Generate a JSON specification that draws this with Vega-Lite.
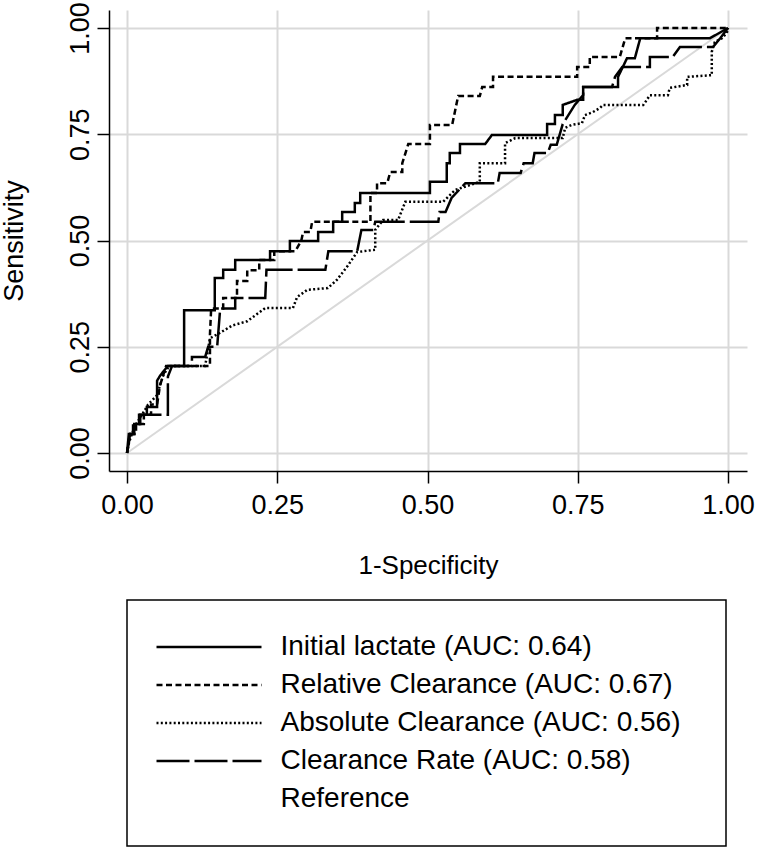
{
  "$schema": "https://vega.github.io/schema/vega-lite/v6.json",
  "width": 638,
  "height": 461,
  "autosize": {"type": "none"},
  "padding": {"left": 109, "top": 10, "right": 10, "bottom": 379},
  "background": "white",
  "config": {"view": {"stroke": null}, "font": "Liberation Sans"},
  "datasets": {
    "diag": [{"x": 0, "y": 0}, {"x": 1, "y": 1}],
    "roc": [
      {"curve": "Initial lactate (AUC: 0.64)", "k": 1, "x": 0, "y": 0},
      {"curve": "Initial lactate (AUC: 0.64)", "k": 2, "x": 0.003, "y": 0.023},
      {"curve": "Initial lactate (AUC: 0.64)", "k": 3, "x": 0.005, "y": 0.045},
      {"curve": "Initial lactate (AUC: 0.64)", "k": 4, "x": 0.012, "y": 0.045},
      {"curve": "Initial lactate (AUC: 0.64)", "k": 5, "x": 0.012, "y": 0.068},
      {"curve": "Initial lactate (AUC: 0.64)", "k": 6, "x": 0.022, "y": 0.068},
      {"curve": "Initial lactate (AUC: 0.64)", "k": 7, "x": 0.022, "y": 0.09},
      {"curve": "Initial lactate (AUC: 0.64)", "k": 8, "x": 0.033, "y": 0.09},
      {"curve": "Initial lactate (AUC: 0.64)", "k": 9, "x": 0.033, "y": 0.108},
      {"curve": "Initial lactate (AUC: 0.64)", "k": 10, "x": 0.05, "y": 0.108},
      {"curve": "Initial lactate (AUC: 0.64)", "k": 11, "x": 0.05, "y": 0.17},
      {"curve": "Initial lactate (AUC: 0.64)", "k": 12, "x": 0.055, "y": 0.182},
      {"curve": "Initial lactate (AUC: 0.64)", "k": 13, "x": 0.068, "y": 0.205},
      {"curve": "Initial lactate (AUC: 0.64)", "k": 14, "x": 0.095, "y": 0.205},
      {"curve": "Initial lactate (AUC: 0.64)", "k": 15, "x": 0.095, "y": 0.336},
      {"curve": "Initial lactate (AUC: 0.64)", "k": 16, "x": 0.146, "y": 0.336},
      {"curve": "Initial lactate (AUC: 0.64)", "k": 17, "x": 0.146, "y": 0.412},
      {"curve": "Initial lactate (AUC: 0.64)", "k": 18, "x": 0.16, "y": 0.412},
      {"curve": "Initial lactate (AUC: 0.64)", "k": 19, "x": 0.16, "y": 0.431},
      {"curve": "Initial lactate (AUC: 0.64)", "k": 20, "x": 0.18, "y": 0.431},
      {"curve": "Initial lactate (AUC: 0.64)", "k": 21, "x": 0.18, "y": 0.454},
      {"curve": "Initial lactate (AUC: 0.64)", "k": 22, "x": 0.238, "y": 0.454},
      {"curve": "Initial lactate (AUC: 0.64)", "k": 23, "x": 0.238, "y": 0.475},
      {"curve": "Initial lactate (AUC: 0.64)", "k": 24, "x": 0.271, "y": 0.475},
      {"curve": "Initial lactate (AUC: 0.64)", "k": 25, "x": 0.271, "y": 0.499},
      {"curve": "Initial lactate (AUC: 0.64)", "k": 26, "x": 0.318, "y": 0.499},
      {"curve": "Initial lactate (AUC: 0.64)", "k": 27, "x": 0.318, "y": 0.52},
      {"curve": "Initial lactate (AUC: 0.64)", "k": 28, "x": 0.343, "y": 0.52},
      {"curve": "Initial lactate (AUC: 0.64)", "k": 29, "x": 0.343, "y": 0.544},
      {"curve": "Initial lactate (AUC: 0.64)", "k": 30, "x": 0.358, "y": 0.544},
      {"curve": "Initial lactate (AUC: 0.64)", "k": 31, "x": 0.358, "y": 0.567},
      {"curve": "Initial lactate (AUC: 0.64)", "k": 32, "x": 0.379, "y": 0.567},
      {"curve": "Initial lactate (AUC: 0.64)", "k": 33, "x": 0.379, "y": 0.588},
      {"curve": "Initial lactate (AUC: 0.64)", "k": 34, "x": 0.388, "y": 0.588},
      {"curve": "Initial lactate (AUC: 0.64)", "k": 35, "x": 0.388, "y": 0.612},
      {"curve": "Initial lactate (AUC: 0.64)", "k": 36, "x": 0.504, "y": 0.612},
      {"curve": "Initial lactate (AUC: 0.64)", "k": 37, "x": 0.504, "y": 0.638},
      {"curve": "Initial lactate (AUC: 0.64)", "k": 38, "x": 0.532, "y": 0.638},
      {"curve": "Initial lactate (AUC: 0.64)", "k": 39, "x": 0.532, "y": 0.682},
      {"curve": "Initial lactate (AUC: 0.64)", "k": 40, "x": 0.537, "y": 0.682},
      {"curve": "Initial lactate (AUC: 0.64)", "k": 41, "x": 0.537, "y": 0.706},
      {"curve": "Initial lactate (AUC: 0.64)", "k": 42, "x": 0.554, "y": 0.706},
      {"curve": "Initial lactate (AUC: 0.64)", "k": 43, "x": 0.554, "y": 0.727},
      {"curve": "Initial lactate (AUC: 0.64)", "k": 44, "x": 0.596, "y": 0.727},
      {"curve": "Initial lactate (AUC: 0.64)", "k": 45, "x": 0.607, "y": 0.748},
      {"curve": "Initial lactate (AUC: 0.64)", "k": 46, "x": 0.699, "y": 0.748},
      {"curve": "Initial lactate (AUC: 0.64)", "k": 47, "x": 0.699, "y": 0.774},
      {"curve": "Initial lactate (AUC: 0.64)", "k": 48, "x": 0.712, "y": 0.774},
      {"curve": "Initial lactate (AUC: 0.64)", "k": 49, "x": 0.712, "y": 0.795},
      {"curve": "Initial lactate (AUC: 0.64)", "k": 50, "x": 0.725, "y": 0.795},
      {"curve": "Initial lactate (AUC: 0.64)", "k": 51, "x": 0.725, "y": 0.819},
      {"curve": "Initial lactate (AUC: 0.64)", "k": 52, "x": 0.749, "y": 0.831},
      {"curve": "Initial lactate (AUC: 0.64)", "k": 53, "x": 0.759, "y": 0.831},
      {"curve": "Initial lactate (AUC: 0.64)", "k": 54, "x": 0.759, "y": 0.861},
      {"curve": "Initial lactate (AUC: 0.64)", "k": 55, "x": 0.817, "y": 0.861},
      {"curve": "Initial lactate (AUC: 0.64)", "k": 56, "x": 0.817, "y": 0.885},
      {"curve": "Initial lactate (AUC: 0.64)", "k": 57, "x": 0.832, "y": 0.929},
      {"curve": "Initial lactate (AUC: 0.64)", "k": 58, "x": 0.845, "y": 0.929},
      {"curve": "Initial lactate (AUC: 0.64)", "k": 59, "x": 0.854, "y": 0.976},
      {"curve": "Initial lactate (AUC: 0.64)", "k": 60, "x": 0.97, "y": 0.976},
      {"curve": "Initial lactate (AUC: 0.64)", "k": 61, "x": 1, "y": 1},

      {"curve": "Relative Clearance (AUC: 0.67)", "k": 1, "x": 0, "y": 0},
      {"curve": "Relative Clearance (AUC: 0.67)", "k": 2, "x": 0.002, "y": 0.023},
      {"curve": "Relative Clearance (AUC: 0.67)", "k": 3, "x": 0.005, "y": 0.045},
      {"curve": "Relative Clearance (AUC: 0.67)", "k": 4, "x": 0.015, "y": 0.045},
      {"curve": "Relative Clearance (AUC: 0.67)", "k": 5, "x": 0.015, "y": 0.068},
      {"curve": "Relative Clearance (AUC: 0.67)", "k": 6, "x": 0.028, "y": 0.068},
      {"curve": "Relative Clearance (AUC: 0.67)", "k": 7, "x": 0.028, "y": 0.09},
      {"curve": "Relative Clearance (AUC: 0.67)", "k": 8, "x": 0.04, "y": 0.09},
      {"curve": "Relative Clearance (AUC: 0.67)", "k": 9, "x": 0.04, "y": 0.114},
      {"curve": "Relative Clearance (AUC: 0.67)", "k": 10, "x": 0.05, "y": 0.114},
      {"curve": "Relative Clearance (AUC: 0.67)", "k": 11, "x": 0.055, "y": 0.16},
      {"curve": "Relative Clearance (AUC: 0.67)", "k": 12, "x": 0.06, "y": 0.182},
      {"curve": "Relative Clearance (AUC: 0.67)", "k": 13, "x": 0.065, "y": 0.205},
      {"curve": "Relative Clearance (AUC: 0.67)", "k": 14, "x": 0.138, "y": 0.205},
      {"curve": "Relative Clearance (AUC: 0.67)", "k": 15, "x": 0.138, "y": 0.28},
      {"curve": "Relative Clearance (AUC: 0.67)", "k": 16, "x": 0.14, "y": 0.34},
      {"curve": "Relative Clearance (AUC: 0.67)", "k": 17, "x": 0.16, "y": 0.34},
      {"curve": "Relative Clearance (AUC: 0.67)", "k": 18, "x": 0.16, "y": 0.365},
      {"curve": "Relative Clearance (AUC: 0.67)", "k": 19, "x": 0.183, "y": 0.365},
      {"curve": "Relative Clearance (AUC: 0.67)", "k": 20, "x": 0.183, "y": 0.405},
      {"curve": "Relative Clearance (AUC: 0.67)", "k": 21, "x": 0.2, "y": 0.405},
      {"curve": "Relative Clearance (AUC: 0.67)", "k": 22, "x": 0.2, "y": 0.43},
      {"curve": "Relative Clearance (AUC: 0.67)", "k": 23, "x": 0.22, "y": 0.43},
      {"curve": "Relative Clearance (AUC: 0.67)", "k": 24, "x": 0.22, "y": 0.454},
      {"curve": "Relative Clearance (AUC: 0.67)", "k": 25, "x": 0.245, "y": 0.454},
      {"curve": "Relative Clearance (AUC: 0.67)", "k": 26, "x": 0.245, "y": 0.475},
      {"curve": "Relative Clearance (AUC: 0.67)", "k": 27, "x": 0.28, "y": 0.475},
      {"curve": "Relative Clearance (AUC: 0.67)", "k": 28, "x": 0.29, "y": 0.5},
      {"curve": "Relative Clearance (AUC: 0.67)", "k": 29, "x": 0.293, "y": 0.52},
      {"curve": "Relative Clearance (AUC: 0.67)", "k": 30, "x": 0.305, "y": 0.52},
      {"curve": "Relative Clearance (AUC: 0.67)", "k": 31, "x": 0.308, "y": 0.544},
      {"curve": "Relative Clearance (AUC: 0.67)", "k": 32, "x": 0.405, "y": 0.544},
      {"curve": "Relative Clearance (AUC: 0.67)", "k": 33, "x": 0.405, "y": 0.612},
      {"curve": "Relative Clearance (AUC: 0.67)", "k": 34, "x": 0.416, "y": 0.612},
      {"curve": "Relative Clearance (AUC: 0.67)", "k": 35, "x": 0.416, "y": 0.635},
      {"curve": "Relative Clearance (AUC: 0.67)", "k": 36, "x": 0.433, "y": 0.635},
      {"curve": "Relative Clearance (AUC: 0.67)", "k": 37, "x": 0.438, "y": 0.661},
      {"curve": "Relative Clearance (AUC: 0.67)", "k": 38, "x": 0.458, "y": 0.661},
      {"curve": "Relative Clearance (AUC: 0.67)", "k": 39, "x": 0.458, "y": 0.682},
      {"curve": "Relative Clearance (AUC: 0.67)", "k": 40, "x": 0.468, "y": 0.727},
      {"curve": "Relative Clearance (AUC: 0.67)", "k": 41, "x": 0.504, "y": 0.727},
      {"curve": "Relative Clearance (AUC: 0.67)", "k": 42, "x": 0.504, "y": 0.772},
      {"curve": "Relative Clearance (AUC: 0.67)", "k": 43, "x": 0.541, "y": 0.772},
      {"curve": "Relative Clearance (AUC: 0.67)", "k": 44, "x": 0.551, "y": 0.84},
      {"curve": "Relative Clearance (AUC: 0.67)", "k": 45, "x": 0.587, "y": 0.84},
      {"curve": "Relative Clearance (AUC: 0.67)", "k": 46, "x": 0.591, "y": 0.861},
      {"curve": "Relative Clearance (AUC: 0.67)", "k": 47, "x": 0.609, "y": 0.861},
      {"curve": "Relative Clearance (AUC: 0.67)", "k": 48, "x": 0.609, "y": 0.885},
      {"curve": "Relative Clearance (AUC: 0.67)", "k": 49, "x": 0.749, "y": 0.885},
      {"curve": "Relative Clearance (AUC: 0.67)", "k": 50, "x": 0.749, "y": 0.908},
      {"curve": "Relative Clearance (AUC: 0.67)", "k": 51, "x": 0.77, "y": 0.908},
      {"curve": "Relative Clearance (AUC: 0.67)", "k": 52, "x": 0.77, "y": 0.932},
      {"curve": "Relative Clearance (AUC: 0.67)", "k": 53, "x": 0.82, "y": 0.932},
      {"curve": "Relative Clearance (AUC: 0.67)", "k": 54, "x": 0.829, "y": 0.976},
      {"curve": "Relative Clearance (AUC: 0.67)", "k": 55, "x": 0.882, "y": 0.976},
      {"curve": "Relative Clearance (AUC: 0.67)", "k": 56, "x": 0.882, "y": 1},
      {"curve": "Relative Clearance (AUC: 0.67)", "k": 57, "x": 1, "y": 1},

      {"curve": "Absolute Clearance (AUC: 0.56)", "k": 1, "x": 0, "y": 0},
      {"curve": "Absolute Clearance (AUC: 0.56)", "k": 2, "x": 0.003, "y": 0.023},
      {"curve": "Absolute Clearance (AUC: 0.56)", "k": 3, "x": 0.008, "y": 0.045},
      {"curve": "Absolute Clearance (AUC: 0.56)", "k": 4, "x": 0.015, "y": 0.068},
      {"curve": "Absolute Clearance (AUC: 0.56)", "k": 5, "x": 0.025, "y": 0.09},
      {"curve": "Absolute Clearance (AUC: 0.56)", "k": 6, "x": 0.035, "y": 0.114},
      {"curve": "Absolute Clearance (AUC: 0.56)", "k": 7, "x": 0.05, "y": 0.136},
      {"curve": "Absolute Clearance (AUC: 0.56)", "k": 8, "x": 0.055, "y": 0.16},
      {"curve": "Absolute Clearance (AUC: 0.56)", "k": 9, "x": 0.06, "y": 0.182},
      {"curve": "Absolute Clearance (AUC: 0.56)", "k": 10, "x": 0.07, "y": 0.205},
      {"curve": "Absolute Clearance (AUC: 0.56)", "k": 11, "x": 0.13, "y": 0.205},
      {"curve": "Absolute Clearance (AUC: 0.56)", "k": 12, "x": 0.138, "y": 0.27},
      {"curve": "Absolute Clearance (AUC: 0.56)", "k": 13, "x": 0.155, "y": 0.283},
      {"curve": "Absolute Clearance (AUC: 0.56)", "k": 14, "x": 0.175, "y": 0.3},
      {"curve": "Absolute Clearance (AUC: 0.56)", "k": 15, "x": 0.2, "y": 0.31},
      {"curve": "Absolute Clearance (AUC: 0.56)", "k": 16, "x": 0.23, "y": 0.341},
      {"curve": "Absolute Clearance (AUC: 0.56)", "k": 17, "x": 0.276, "y": 0.341},
      {"curve": "Absolute Clearance (AUC: 0.56)", "k": 18, "x": 0.283, "y": 0.367},
      {"curve": "Absolute Clearance (AUC: 0.56)", "k": 19, "x": 0.3, "y": 0.384},
      {"curve": "Absolute Clearance (AUC: 0.56)", "k": 20, "x": 0.334, "y": 0.388},
      {"curve": "Absolute Clearance (AUC: 0.56)", "k": 21, "x": 0.349, "y": 0.407},
      {"curve": "Absolute Clearance (AUC: 0.56)", "k": 22, "x": 0.366, "y": 0.438},
      {"curve": "Absolute Clearance (AUC: 0.56)", "k": 23, "x": 0.383, "y": 0.473},
      {"curve": "Absolute Clearance (AUC: 0.56)", "k": 24, "x": 0.413, "y": 0.478},
      {"curve": "Absolute Clearance (AUC: 0.56)", "k": 25, "x": 0.413, "y": 0.525},
      {"curve": "Absolute Clearance (AUC: 0.56)", "k": 26, "x": 0.426, "y": 0.548},
      {"curve": "Absolute Clearance (AUC: 0.56)", "k": 27, "x": 0.451, "y": 0.548},
      {"curve": "Absolute Clearance (AUC: 0.56)", "k": 28, "x": 0.463, "y": 0.591},
      {"curve": "Absolute Clearance (AUC: 0.56)", "k": 29, "x": 0.526, "y": 0.591},
      {"curve": "Absolute Clearance (AUC: 0.56)", "k": 30, "x": 0.546, "y": 0.619},
      {"curve": "Absolute Clearance (AUC: 0.56)", "k": 31, "x": 0.587, "y": 0.638},
      {"curve": "Absolute Clearance (AUC: 0.56)", "k": 32, "x": 0.587, "y": 0.682},
      {"curve": "Absolute Clearance (AUC: 0.56)", "k": 33, "x": 0.629, "y": 0.682},
      {"curve": "Absolute Clearance (AUC: 0.56)", "k": 34, "x": 0.629, "y": 0.729},
      {"curve": "Absolute Clearance (AUC: 0.56)", "k": 35, "x": 0.646, "y": 0.741},
      {"curve": "Absolute Clearance (AUC: 0.56)", "k": 36, "x": 0.725, "y": 0.741},
      {"curve": "Absolute Clearance (AUC: 0.56)", "k": 37, "x": 0.729, "y": 0.765},
      {"curve": "Absolute Clearance (AUC: 0.56)", "k": 38, "x": 0.74, "y": 0.772},
      {"curve": "Absolute Clearance (AUC: 0.56)", "k": 39, "x": 0.757, "y": 0.776},
      {"curve": "Absolute Clearance (AUC: 0.56)", "k": 40, "x": 0.762, "y": 0.795},
      {"curve": "Absolute Clearance (AUC: 0.56)", "k": 41, "x": 0.775, "y": 0.802},
      {"curve": "Absolute Clearance (AUC: 0.56)", "k": 42, "x": 0.787, "y": 0.812},
      {"curve": "Absolute Clearance (AUC: 0.56)", "k": 43, "x": 0.792, "y": 0.819},
      {"curve": "Absolute Clearance (AUC: 0.56)", "k": 44, "x": 0.859, "y": 0.819},
      {"curve": "Absolute Clearance (AUC: 0.56)", "k": 45, "x": 0.865, "y": 0.831},
      {"curve": "Absolute Clearance (AUC: 0.56)", "k": 46, "x": 0.87, "y": 0.842},
      {"curve": "Absolute Clearance (AUC: 0.56)", "k": 47, "x": 0.9, "y": 0.842},
      {"curve": "Absolute Clearance (AUC: 0.56)", "k": 48, "x": 0.903, "y": 0.859},
      {"curve": "Absolute Clearance (AUC: 0.56)", "k": 49, "x": 0.932, "y": 0.866},
      {"curve": "Absolute Clearance (AUC: 0.56)", "k": 50, "x": 0.932, "y": 0.885},
      {"curve": "Absolute Clearance (AUC: 0.56)", "k": 51, "x": 0.973, "y": 0.889},
      {"curve": "Absolute Clearance (AUC: 0.56)", "k": 52, "x": 0.973, "y": 0.944},
      {"curve": "Absolute Clearance (AUC: 0.56)", "k": 53, "x": 0.978, "y": 0.967},
      {"curve": "Absolute Clearance (AUC: 0.56)", "k": 54, "x": 0.99, "y": 0.976},
      {"curve": "Absolute Clearance (AUC: 0.56)", "k": 55, "x": 0.998, "y": 0.988},
      {"curve": "Absolute Clearance (AUC: 0.56)", "k": 56, "x": 1, "y": 1},

      {"curve": "Clearance Rate (AUC: 0.58)", "k": 1, "x": 0, "y": 0},
      {"curve": "Clearance Rate (AUC: 0.58)", "k": 2, "x": 0.003, "y": 0.045},
      {"curve": "Clearance Rate (AUC: 0.58)", "k": 3, "x": 0.01, "y": 0.045},
      {"curve": "Clearance Rate (AUC: 0.58)", "k": 4, "x": 0.01, "y": 0.068},
      {"curve": "Clearance Rate (AUC: 0.58)", "k": 5, "x": 0.02, "y": 0.068},
      {"curve": "Clearance Rate (AUC: 0.58)", "k": 6, "x": 0.02, "y": 0.09},
      {"curve": "Clearance Rate (AUC: 0.58)", "k": 7, "x": 0.068, "y": 0.09},
      {"curve": "Clearance Rate (AUC: 0.58)", "k": 8, "x": 0.068, "y": 0.18},
      {"curve": "Clearance Rate (AUC: 0.58)", "k": 9, "x": 0.075, "y": 0.205},
      {"curve": "Clearance Rate (AUC: 0.58)", "k": 10, "x": 0.108, "y": 0.205},
      {"curve": "Clearance Rate (AUC: 0.58)", "k": 11, "x": 0.108, "y": 0.226},
      {"curve": "Clearance Rate (AUC: 0.58)", "k": 12, "x": 0.13, "y": 0.226},
      {"curve": "Clearance Rate (AUC: 0.58)", "k": 13, "x": 0.135, "y": 0.25},
      {"curve": "Clearance Rate (AUC: 0.58)", "k": 14, "x": 0.15, "y": 0.25},
      {"curve": "Clearance Rate (AUC: 0.58)", "k": 15, "x": 0.155, "y": 0.34},
      {"curve": "Clearance Rate (AUC: 0.58)", "k": 16, "x": 0.18, "y": 0.34},
      {"curve": "Clearance Rate (AUC: 0.58)", "k": 17, "x": 0.18, "y": 0.365},
      {"curve": "Clearance Rate (AUC: 0.58)", "k": 18, "x": 0.23, "y": 0.365},
      {"curve": "Clearance Rate (AUC: 0.58)", "k": 19, "x": 0.232, "y": 0.431},
      {"curve": "Clearance Rate (AUC: 0.58)", "k": 20, "x": 0.33, "y": 0.431},
      {"curve": "Clearance Rate (AUC: 0.58)", "k": 21, "x": 0.335, "y": 0.475},
      {"curve": "Clearance Rate (AUC: 0.58)", "k": 22, "x": 0.383, "y": 0.475},
      {"curve": "Clearance Rate (AUC: 0.58)", "k": 23, "x": 0.39, "y": 0.525},
      {"curve": "Clearance Rate (AUC: 0.58)", "k": 24, "x": 0.41, "y": 0.525},
      {"curve": "Clearance Rate (AUC: 0.58)", "k": 25, "x": 0.413, "y": 0.544},
      {"curve": "Clearance Rate (AUC: 0.58)", "k": 26, "x": 0.518, "y": 0.544},
      {"curve": "Clearance Rate (AUC: 0.58)", "k": 27, "x": 0.52, "y": 0.567},
      {"curve": "Clearance Rate (AUC: 0.58)", "k": 28, "x": 0.53, "y": 0.567},
      {"curve": "Clearance Rate (AUC: 0.58)", "k": 29, "x": 0.54, "y": 0.6},
      {"curve": "Clearance Rate (AUC: 0.58)", "k": 30, "x": 0.563, "y": 0.635},
      {"curve": "Clearance Rate (AUC: 0.58)", "k": 31, "x": 0.617, "y": 0.635},
      {"curve": "Clearance Rate (AUC: 0.58)", "k": 32, "x": 0.62, "y": 0.659},
      {"curve": "Clearance Rate (AUC: 0.58)", "k": 33, "x": 0.655, "y": 0.659},
      {"curve": "Clearance Rate (AUC: 0.58)", "k": 34, "x": 0.66, "y": 0.682},
      {"curve": "Clearance Rate (AUC: 0.58)", "k": 35, "x": 0.675, "y": 0.682},
      {"curve": "Clearance Rate (AUC: 0.58)", "k": 36, "x": 0.678, "y": 0.706},
      {"curve": "Clearance Rate (AUC: 0.58)", "k": 37, "x": 0.7, "y": 0.706},
      {"curve": "Clearance Rate (AUC: 0.58)", "k": 38, "x": 0.705, "y": 0.725},
      {"curve": "Clearance Rate (AUC: 0.58)", "k": 39, "x": 0.715, "y": 0.725},
      {"curve": "Clearance Rate (AUC: 0.58)", "k": 40, "x": 0.725, "y": 0.774},
      {"curve": "Clearance Rate (AUC: 0.58)", "k": 41, "x": 0.745, "y": 0.819},
      {"curve": "Clearance Rate (AUC: 0.58)", "k": 42, "x": 0.759, "y": 0.842},
      {"curve": "Clearance Rate (AUC: 0.58)", "k": 43, "x": 0.759, "y": 0.861},
      {"curve": "Clearance Rate (AUC: 0.58)", "k": 44, "x": 0.807, "y": 0.861},
      {"curve": "Clearance Rate (AUC: 0.58)", "k": 45, "x": 0.812, "y": 0.885},
      {"curve": "Clearance Rate (AUC: 0.58)", "k": 46, "x": 0.824, "y": 0.908},
      {"curve": "Clearance Rate (AUC: 0.58)", "k": 47, "x": 0.87, "y": 0.908},
      {"curve": "Clearance Rate (AUC: 0.58)", "k": 48, "x": 0.87, "y": 0.932},
      {"curve": "Clearance Rate (AUC: 0.58)", "k": 49, "x": 0.908, "y": 0.932},
      {"curve": "Clearance Rate (AUC: 0.58)", "k": 50, "x": 0.92, "y": 0.955},
      {"curve": "Clearance Rate (AUC: 0.58)", "k": 51, "x": 0.975, "y": 0.955},
      {"curve": "Clearance Rate (AUC: 0.58)", "k": 52, "x": 0.987, "y": 0.976},
      {"curve": "Clearance Rate (AUC: 0.58)", "k": 53, "x": 1, "y": 1}
    ]
  },
  "encoding": {
    "x": {
      "field": "x", "type": "quantitative",
      "scale": {"domain": [-0.03, 1.0316], "nice": false, "zero": false},
      "axis": {
        "title": "1-Specificity", "values": [0, 0.25, 0.5, 0.75, 1], "format": ".2f",
        "grid": true, "gridColor": "#d9d9d9", "gridWidth": 2,
        "domainColor": "black", "domainWidth": 1.5,
        "tickColor": "black", "tickSize": 12, "tickWidth": 1.5,
        "labelFont": "Liberation Sans", "labelFontSize": 27, "labelColor": "black",
        "labelPadding": 9, "labelFlush": false, "labelOverlap": false,
        "titleFont": "Liberation Sans", "titleFontSize": 26, "titleFontWeight": "normal",
        "titleColor": "black", "titlePadding": 34
      }
    },
    "y": {
      "field": "y", "type": "quantitative",
      "scale": {"domain": [-0.04235, 1.04235], "nice": false, "zero": false},
      "axis": {
        "title": "Sensitivity", "values": [0, 0.25, 0.5, 0.75, 1], "format": ".2f",
        "grid": true, "gridColor": "#d9d9d9", "gridWidth": 2,
        "domainColor": "black", "domainWidth": 1.5,
        "tickColor": "black", "tickSize": 12, "tickWidth": 1.5,
        "labelFont": "Liberation Sans", "labelFontSize": 27, "labelColor": "black",
        "labelAngle": 270, "labelAlign": "center", "labelBaseline": "alphabetic",
        "labelPadding": 9, "labelFlush": false, "labelOverlap": false,
        "titleFont": "Liberation Sans", "titleFontSize": 27, "titleFontWeight": "normal",
        "titleColor": "black", "titlePadding": 38
      }
    }
  },
  "layer": [
    {
      "data": {"name": "diag"},
      "mark": {"type": "line", "color": "#d9d9d9", "strokeWidth": 2},
      "encoding": {}
    },
    {
      "data": {"name": "roc"},
      "mark": {"type": "line", "color": "black", "strokeWidth": 2.5, "strokeCap": "butt"},
      "encoding": {
        "order": {"field": "k", "type": "quantitative"},
        "strokeDash": {
          "field": "curve", "type": "nominal",
          "scale": {
            "domain": ["Initial lactate (AUC: 0.64)", "Relative Clearance (AUC: 0.67)", "Absolute Clearance (AUC: 0.56)", "Clearance Rate (AUC: 0.58)", "Reference"],
            "range": [[1, 0], [6, 3.5], [2, 2.3], [33, 5], [0, 1000]]
          },
          "legend": {
            "title": " ", "titleOrient": "right", "titleFontSize": 1, "titlePadding": 18,
            "orient": "none", "legendX": 18, "legendY": 590, "direction": "vertical",
            "padding": 28, "strokeColor": "black", "fillColor": "white", "cornerRadius": 0,
            "symbolType": "stroke", "symbolSize": 11025, "symbolStrokeWidth": 2.5,
            "symbolStrokeColor": "black",
            "labelFont": "Liberation Sans", "labelFontSize": 28, "labelColor": "black",
            "labelOffset": 17.5, "labelLimit": 600, "clipHeight": 38, "rowPadding": 0,
            "encode": {
              "symbols": {"update": {"opacity": {"signal": "datum.value === 'Reference' ? 0 : 1"}}},
              "legend": {"update": {"strokeWidth": {"value": 1.5}}}
            }
          }
        }
      }
    }
  ]
}
